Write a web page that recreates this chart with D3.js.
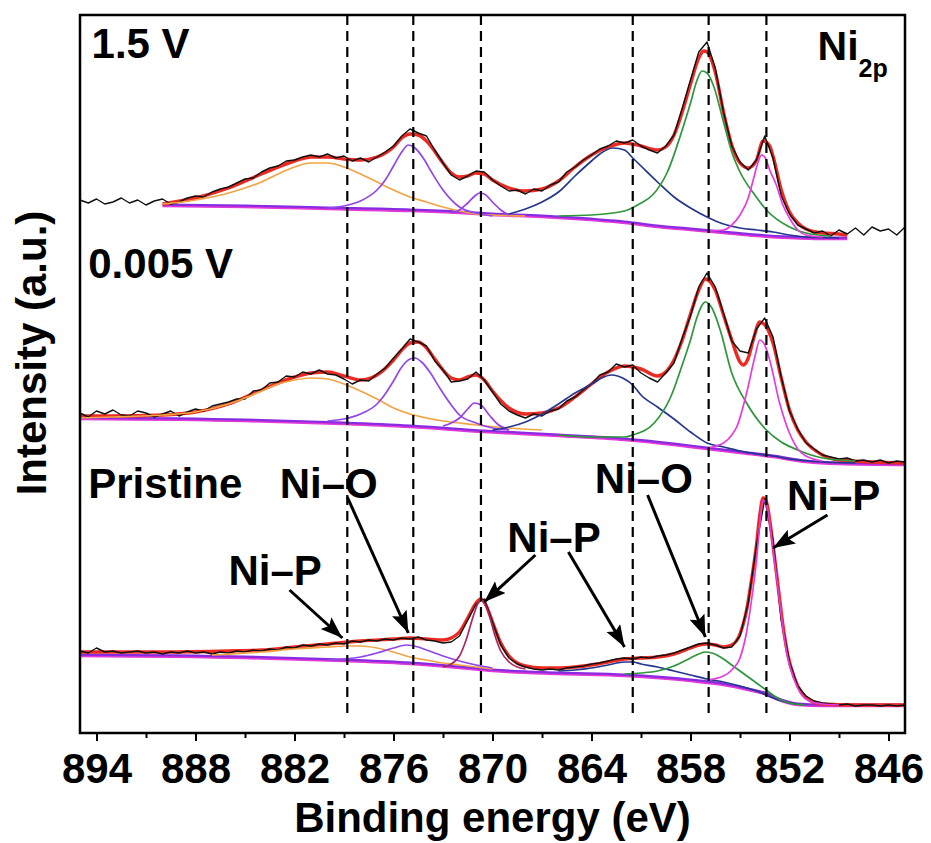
<!DOCTYPE html>
<html>
<head>
<meta charset="utf-8">
<script src="https://d3js.org/d3.v7.min.js"></script>
<style>
  body { margin: 0; background: #fff; }
  text { font-family: "Liberation Sans", Arial, Helvetica, sans-serif; font-weight: bold; fill: #000; }
</style>
</head>
<body>
<div id="chart"></div>
<script>
// ---------------------------//
//            DATA            //
// ---------------------------//

// scan grid of the raw spectra (eV), 0.5 eV step, high to low binding energy
const energyGrid = d3.range(895, 844.75, -0.5);

// raw counts (a.u., stack offset included), one value per grid point
const raw15 = [
  533, 530, 534, 529, 531, 535, 530, 533, 528, 532,
  534, 529, 531, 535, 537, 536, 541, 544, 546, 550,
  554, 555, 561, 565, 567, 572, 573, 576, 578, 576,
  579, 575, 577, 572, 575, 571, 576, 581, 587, 597,
  604, 600, 597, 583, 570, 558, 553, 557, 562, 561,
  553, 547, 542, 543, 539, 544, 542, 548, 551, 561,
  566, 573, 578, 584, 587, 592, 590, 593, 587, 583,
  580, 587, 598, 625, 653, 681, 691, 665, 621, 587,
  571, 563, 573, 597, 575, 537, 519, 508, 504, 500,
  502, 497, 503, 499, 505, 498, 506, 502, 504, 498,
  506
];
const raw0005 = [
  320, 316, 322, 319, 323, 318, 317, 322, 320, 316,
  319, 322, 317, 321, 324, 322, 327, 329, 331, 334,
  334, 342, 343, 350, 351, 357, 356, 361, 359, 363,
  359, 358, 354, 349, 353, 352, 359, 365, 375, 384,
  394, 391, 387, 372, 363, 351, 352, 354, 361, 353,
  341, 329, 322, 318, 315, 319, 317, 322, 324, 332,
  336, 343, 349, 358, 361, 369, 366, 368, 360, 355,
  351, 360, 370, 395, 417, 446, 460, 446, 420, 392,
  382, 380, 404, 415, 396, 356, 322, 304, 290, 284,
  278, 276, 274, 275, 272, 273, 271, 273, 270, 272,
  271
];
const rawPristine = [
  82, 80, 85, 81, 82, 80, 81, 82, 80, 81,
  79, 81, 80, 82, 80, 81, 79, 81, 80, 82,
  81, 83, 82, 84, 83, 86, 85, 88, 87, 89,
  88, 90, 89, 92, 91, 93, 92, 94, 93, 95,
  94, 96, 93, 92, 90, 91, 97, 113, 129, 134,
  111, 88, 75, 69, 66, 64, 63, 64, 63, 65,
  66, 67, 69, 70, 72, 74, 75, 74, 76, 75,
  77, 78, 80, 83, 86, 89, 90, 88, 85, 86,
  97, 130, 188, 234, 193, 113, 71, 47, 37, 32,
  30, 29, 28, 29, 27, 28, 28, 27, 28, 27,
  28
];

// 1.5 V : fit envelope, background and components, [eV, a.u.]
const fit15 = [[890,529],[888,535],[886,545],[884,559],[882,572],[881,576],[880,576],[879,574],[878,573],[877,576],[876,586],[875.5,595],[875,599],[874.5,598],[874,592],[873,570],[872.5,560],[872,556],[871.5,557],[871,560],[870.5,559],[870,553],[869,545],[868,542],[867,544],[866,552],[865,566],[864,578],[863,586],[862,590],[861,587],[860,583],[859.5,586],[859,598],[858.5,621],[858,649],[857.5,675],[857.2,682],[857,681],[856.5,661],[856,621],[855.5,588],[855,570],[854.5,565],[854,573],[853.6,592],[853.2,587],[853,577],[852.5,543],[852,521],[851.5,510],[851,504],[850,500],[849,499],[848.5,498]];
const bg15 = [[890,528],[885,527],[880,525],[875,523],[872,521],[870,519],[867,517],[865,515],[862,511],[860,507],[858,504],[856,501],[854,498],[852,496],[850,495],[848.5,495]];
const sat15 = [[890,529],[888,533],[886,540],[885,545],[884,551],[883,559],[882,566],[881,570],[880,570],[879,566],[878,559],[877,551],[876,543],[875,536],[874,531],[873,526],[872,522],[871,519],[870,518],[868,517]];
const oxide2p1_15 = [[880,525],[879,527],[878,532],[877,543],[876.5,553],[876,567],[875.5,581],[875.1,588],[874.7,585],[874.2,575],[873.7,561],[873,543],[872,526],[871,520],[870,517]];
const phos2p1_15 = [[872.5,520],[872,523],[871.5,530],[871,538],[870.8,540],[870.5,539],[870,531],[869.5,523],[869,518]];
const sat2p3_15 = [[869,519],[868,524],[867,531],[866,541],[865,557],[864,572],[863.5,579],[862.7,585],[862,583],[861.5,575],[861,567],[860,551],[859,536],[858,525],[857,516],[856,509],[855,505],[854,503],[853,501],[852,498],[851,496],[849,495]];
const oxide2p3_15 = [[866,517],[864,518],[862,522],[861,530],[860.3,538],[859.4,561],[858.6,598],[858,630],[857.6,653],[857.3,662],[857,660],[856.6,647],[856,611],[855.5,581],[855,561],[854.1,538],[853.4,523],[852,506],[851,500],[849.5,497]];
const phos2p3_15 = [[857,502],[856,503],[855.5,508],[855,518],[854.5,535],[854.2,553],[853.9,571],[853.7,578],[853.5,576],[853.2,563],[852.8,548],[852.4,528],[852,515],[851.5,503],[851,498],[850,496]];

// 0.005 V
const fit0005 = [[895,317],[893,317],[890,318],[888,321],[886,329],[884,343],[882,356],[881,360],[880,361],[879,357],[878,353],[877,358],[876,373],[875.5,383],[875,390],[874.5,391],[874,385],[873.5,374],[873,363],[872.5,355],[872,353],[871.5,356],[871,358],[870.5,353],[870,342],[869,325],[868,319],[867,320],[866,325],[865,336],[864,349],[863,361],[862,367],[861,364],[860,357],[859.5,361],[859,373],[858.5,393],[858,419],[857.5,443],[857.1,454],[856.5,443],[856,418],[855.5,393],[855,371],[854.8,368],[854.5,375],[854.2,393],[853.8,411],[853.4,406],[853,390],[852.5,355],[852,323],[851.5,303],[851,291],[850,278],[849,273],[847,271],[845,270]];
const bg0005 = [[895,315],[885,313],[879,310],[875,307],[870.5,302],[866,298],[862,294],[859,289],[857,285],[855,281],[853,277],[851,272],[849,270],[845,269]];
const sat0005 = [[895,315],[893,316],[890,318],[888,321],[886,329],[885,335],[884,342],[883,349],[882,353],[881,355],[880,354],[879,349],[878,342],[877,334],[876,325],[875,319],[874,315],[873,312],[872,310],[871,308],[869,305],[867,303]];
const oxide2p1_0005 = [[880,312],[879,314],[878,319],[877,329],[876.5,339],[876,352],[875.5,366],[875,374],[874.7,375],[874.3,371],[873.8,361],[873.2,345],[872.5,328],[872,318],[871,310],[870,305],[869,303]];
const phos2p1_0005 = [[873,307],[872.5,310],[872,315],[871.5,324],[871.1,330],[870.7,328],[870.2,318],[869.7,309],[869,303]];
const sat2p3_0005 = [[870,303],[869,306],[868,311],[867,319],[866,329],[865,340],[864,349],[863.5,354],[862.8,358],[862,354],[861.5,348],[861,338],[860,326],[859,314],[858,301],[857,290],[856,286],[855,282],[854,279],[853,277],[852,274],[850,271],[848,270]];
const oxide2p3_0005 = [[866,298],[864,296],[862,296],[861.5,298],[860.2,310],[859.2,336],[858.4,373],[858,393],[857.6,416],[857.1,431],[856.7,425],[856.2,403],[855.5,360],[854.6,330],[853.4,303],[852.5,291],[851.5,283],[850,275],[848,272]];
const phos2p3_0005 = [[857,285],[856,290],[855.5,298],[855.2,306],[854.6,340],[854.1,376],[853.8,393],[853.5,388],[853.2,373],[852.6,330],[851.9,296],[851.5,284],[851,277],[850,272]];

// Pristine
const fitPristine = [[895,81],[890,81],[886,82],[884,83],[882,86],[880,89],[878,92],[876,94],[875,95],[874,94],[873,93],[872.5,95],[872,101],[871.5,115],[871,130],[870.7,134],[870.4,128],[870,111],[869.5,90],[869,77],[868.5,70],[868,67],[867,65],[866,65],[865,66],[864,68],[863,71],[862,74],[861,75],[860,76],[859,79],[858,85],[857.5,88],[857,89],[856.5,88],[856,86],[855.5,88],[855,99],[854.6,123],[854.3,153],[854,188],[853.8,218],[853.6,235],[853.4,231],[853.2,213],[853,188],[852.7,148],[852.4,108],[852.1,78],[851.7,55],[851.3,41],[850.8,33],[850,29],[848,28],[845,28]];
const bgPristine = [[895,78],[885,76],[879,73],[875,70],[872,66],[870,63],[866,60],[862,58],[858,53],[856,49],[854.5,44],[853.5,40],[852.5,33],[851.5,29],[850,28],[845,28]];
const satPristine = [[887,78],[884,81],[882,84],[880,86],[879,87],[878,87],[877,85],[876,81],[875,76],[874,73],[873,70],[872,68],[870,64]];
const oxide2p1_Pristine = [[880,73],[879,74],[878,76],[877,80],[876,85],[875.2,88],[874.5,86],[874,83],[873,77],[872,72],[871,68],[870,65]];
const phos2p1_Pristine = [[873,66],[872.5,69],[872,77],[871.6,93],[871.2,115],[870.9,129],[870.7,133],[870.5,130],[870.2,118],[869.9,100],[869.5,82],[869,71],[868.5,66],[868,64]];
const sat2p3_Pristine = [[866,62],[865,63],[864,65],[863,68],[862,71],[861.5,71],[861,69],[860,66],[859,62],[858,58],[857,54],[856,51],[855,47],[854,42],[853,35],[852,30],[851,28]];
const oxide2p3_Pristine = [[862,59],[861,60],[860,62],[859,67],[858,75],[857.5,79],[857.1,81],[856.7,80],[856,74],[855.5,68],[855,62],[854.5,56],[854,50],[853.5,44],[853,38],[852.5,33],[852,30],[851,28]];
const phos2p3_Pristine = [[857,53],[856,57],[855.5,63],[855,75],[854.6,101],[854.3,133],[854,173],[853.8,208],[853.6,233],[853.4,228],[853.2,210],[853,185],[852.7,145],[852.4,105],[852.1,75],[851.7,53],[851.3,39],[850.8,32],[850,29],[849,28]];

// reference peak positions (eV)
const peakLines = [878.8, 874.8, 870.7, 861.5, 856.9, 853.4];

// axis ticks
const majorTicks = [894, 888, 882, 876, 870, 864, 858, 852, 846];
const minorTicks = [891, 885, 879, 873, 867, 861, 855, 849];

// state labels and their anchor [eV, a.u.]
const stateNames = ["1.5 V", "0.005 V", "Pristine"];
const stateAnchors = [[894.3, 675], [894.5, 455], [894.5, 235]];

// bond annotations for the pristine spectrum
const bondNames = ["Ni–P", "Ni–O", "Ni–P", "Ni–O", "Ni–P"];
const bondAnchors = [[886.0, 148], [882.9, 235], [869.1, 181], [863.8, 240], [852.15, 223]];
const arrowFrom = [[882.3, 143], [878.8, 236], [867.4, 178], [865.4, 181], [860.6, 238], [849.7, 218]];
const arrowTo   = [[879.1, 95],  [875.1, 100], [870.5, 131], [862.0, 86],  [857.1, 96],  [853.0, 185]];

// ---------------------------//
//       SET  CANVAS          //
// ---------------------------//
const W = 931, H = 843;
const margin = {top: 15, right: 26, bottom: 110, left: 80};
const width = W - margin.left - margin.right,
      height = H - margin.top - margin.bottom;

const svg = d3.select("#chart")
    .append("svg")
    .attr("width", W)
    .attr("height", H);

const x = d3.scaleLinear().domain([895, 845]).range([margin.left, margin.left + width]);
const y = d3.scaleLinear().domain([0, 718]).range([margin.top + height, margin.top]);

const line = d3.line()
    .x(d => x(d[0]))
    .y(d => y(d[1]))
    .curve(d3.curveMonotoneX);

const rawLine = d3.line()
    .x(d => x(d[0]))
    .y(d => y(d[1]));

// ---------------------------//
//        SPECTRA             //
// ---------------------------//
const colors = {
    sat: "#f2a444", oxide2p1: "#9147ea", phos2p1: "#9a40e6",
    sat2p3: "#24368e", oxide2p3: "#2e963c", phos2p3: "#e43ce0"
};

const stack = [
    {raw: raw15, fit: fit15, bg: bg15,
     comps: [[sat15, colors.sat], [oxide2p1_15, colors.oxide2p1], [phos2p1_15, colors.phos2p1],
             [sat2p3_15, colors.sat2p3], [oxide2p3_15, colors.oxide2p3], [phos2p3_15, colors.phos2p3]]},
    {raw: raw0005, fit: fit0005, bg: bg0005,
     comps: [[sat0005, colors.sat], [oxide2p1_0005, colors.oxide2p1], [phos2p1_0005, colors.phos2p1],
             [sat2p3_0005, colors.sat2p3], [oxide2p3_0005, colors.oxide2p3], [phos2p3_0005, colors.phos2p3]]},
    {raw: rawPristine, fit: fitPristine, bg: bgPristine,
     comps: [[satPristine, colors.sat], [oxide2p1_Pristine, colors.oxide2p1], [phos2p1_Pristine, "#a82860"],
             [sat2p3_Pristine, colors.sat2p3], [oxide2p3_Pristine, colors.oxide2p3], [phos2p3_Pristine, colors.phos2p3]]}
];

const plot = svg.append("g");

stack.forEach(s => {
    const g = plot.append("g");

    // background (drawn as a purple / magenta band)
    g.append("path").attr("d", line(s.bg))
        .attr("fill", "none").attr("stroke", "#8a2be2").attr("stroke-width", 3);
    g.append("path").attr("d", line(s.bg))
        .attr("transform", "translate(0,1.5)")
        .attr("fill", "none").attr("stroke", "#e23ad6").attr("stroke-width", 1.6);

    // fit envelope
    g.append("path").attr("d", line(s.fit))
        .attr("fill", "none").attr("stroke", "#ec2a22").attr("stroke-width", 3.4);

    // raw data
    const pts = s.raw.map((v, i) => [energyGrid[i], v]);
    g.append("path").attr("d", rawLine(pts))
        .attr("fill", "none").attr("stroke", "#111").attr("stroke-width", 1.4)
        .attr("stroke-linejoin", "round");

    // components
    s.comps.forEach(([data, c]) => {
        g.append("path").attr("d", line(data))
            .attr("fill", "none").attr("stroke", c).attr("stroke-width", 1.7);
    });
});

// ---------------------------//
//     REFERENCE LINES        //
// ---------------------------//
svg.selectAll(".peak-line")
    .data(peakLines)
    .enter()
    .append("line")
    .attr("class", "peak-line")
    .attr("x1", d => x(d)).attr("x2", d => x(d))
    .attr("y1", y(718)).attr("y2", y(16))
    .attr("stroke", "#000")
    .attr("stroke-width", 2.2)
    .attr("stroke-dasharray", "10,6");

// ---------------------------//
//       AXIS AND FRAME       //
// ---------------------------//
const xAxis = svg.append("g")
    .attr("transform", `translate(0,${margin.top + height})`)
    .call(d3.axisBottom(x).tickValues(majorTicks).tickSize(8).tickPadding(12).tickSizeOuter(0));
xAxis.select(".domain").remove();
xAxis.selectAll("line").attr("stroke-width", 2);
xAxis.selectAll("text")
    .style("font-family", "'Liberation Sans', Arial, sans-serif")
    .style("font-weight", "bold")
    .style("font-size", "42px");

const xMinor = svg.append("g")
    .attr("transform", `translate(0,${margin.top + height})`)
    .call(d3.axisBottom(x).tickValues(minorTicks).tickSize(5).tickFormat("").tickSizeOuter(0));
xMinor.select(".domain").remove();
xMinor.selectAll("line").attr("stroke-width", 2);

svg.append("rect")
    .attr("x", margin.left)
    .attr("y", margin.top)
    .attr("width", width)
    .attr("height", height)
    .attr("fill", "none")
    .attr("stroke", "#000")
    .attr("stroke-width", 2.5);

// axis titles
svg.append("text")
    .attr("x", margin.left + width / 2)
    .attr("y", 832)
    .attr("text-anchor", "middle")
    .style("font-size", "42px")
    .text("Binding energy (eV)");

svg.append("text")
    .attr("transform", "rotate(-90)")
    .attr("x", -353)
    .attr("y", 46)
    .attr("text-anchor", "middle")
    .style("font-size", "42px")
    .text("Intensity (a.u.)");

// ---------------------------//
//          LABELS            //
// ---------------------------//
svg.selectAll(".state-label")
    .data(stateNames)
    .enter()
    .append("text")
    .attr("class", "state-label")
    .attr("x", (d, i) => x(stateAnchors[i][0]))
    .attr("y", (d, i) => y(stateAnchors[i][1]))
    .style("font-size", "42px")
    .text(d => d);

const ni = svg.append("text")
    .attr("x", x(850.3))
    .attr("y", y(673))
    .style("font-size", "41px");
ni.append("tspan").text("Ni");
ni.append("tspan").attr("dy", 17).style("font-size", "25px").text("2p");

svg.selectAll(".bond-label")
    .data(bondNames)
    .enter()
    .append("text")
    .attr("class", "bond-label")
    .attr("x", (d, i) => x(bondAnchors[i][0]))
    .attr("y", (d, i) => y(bondAnchors[i][1]))
    .style("font-size", "42px")
    .text(d => d);

// arrows
svg.append("defs").append("marker")
    .attr("id", "arrowhead")
    .attr("markerUnits", "userSpaceOnUse")
    .attr("markerWidth", 24)
    .attr("markerHeight", 18)
    .attr("refX", 22)
    .attr("refY", 8)
    .attr("orient", "auto")
    .append("path")
    .attr("d", "M0,0 L22,8 L0,16 L4,8 Z")
    .attr("fill", "#000");

svg.selectAll(".arrow")
    .data(arrowFrom)
    .enter()
    .append("line")
    .attr("class", "arrow")
    .attr("x1", d => x(d[0]))
    .attr("y1", d => y(d[1]))
    .attr("x2", (d, i) => x(arrowTo[i][0]))
    .attr("y2", (d, i) => y(arrowTo[i][1]))
    .attr("stroke", "#000")
    .attr("stroke-width", 3)
    .attr("marker-end", "url(#arrowhead)");
</script>
</body>
</html>
